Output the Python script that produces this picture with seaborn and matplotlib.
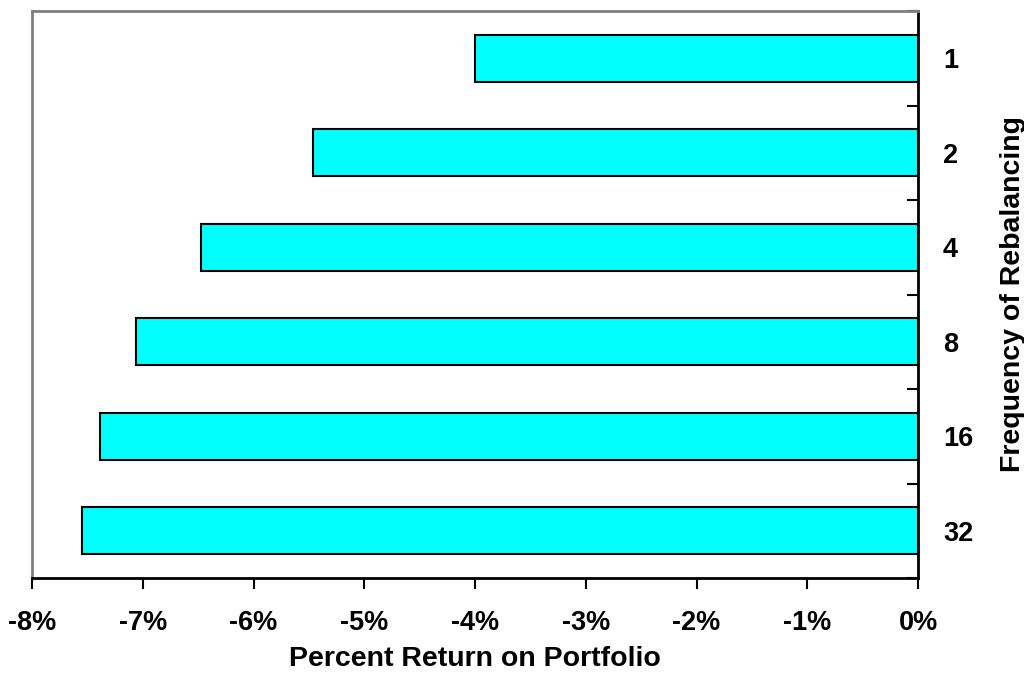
import matplotlib
matplotlib.use("Agg")
import matplotlib.pyplot as plt
import seaborn as sns
import numpy as np
import pandas as pd
from matplotlib.ticker import FixedLocator, FuncFormatter

# Rebalancing frequency and resulting portfolio return (%)
frequencies = ["1", "2", "4", "8", "16", "32"]
returns_pct = [-4.00, -5.46, -6.47, -7.06, -7.39, -7.55]
x_ticks = [-8, -7, -6, -5, -4, -3, -2, -1, 0]

sns.set_style("white")
plt.rcParams["font.family"] = ["Liberation Sans", "DejaVu Sans"]
plt.rcParams["font.weight"] = "bold"
plt.rcParams["text.color"] = "black"
plt.rcParams["axes.labelcolor"] = "black"
plt.rcParams["xtick.labelcolor"] = "black"
plt.rcParams["ytick.labelcolor"] = "black"

df = pd.DataFrame({"freq": frequencies, "ret": returns_pct})

fig = plt.figure(figsize=(10.24, 6.75), dpi=100)
ax = fig.add_axes([32 / 1024, 97 / 675, 886 / 1024, 567 / 675])

sns.barplot(data=df, x="ret", y="freq", order=frequencies, orient="h",
            color="#00FFFF", saturation=1, edgecolor="black", linewidth=1.5,
            width=0.5, ax=ax)

ax.set_xlim(-8, 0)
ax.set_ylim(5.5, -0.5)
ax.set_xticks(x_ticks)
ax.xaxis.set_major_formatter(FuncFormatter(lambda v, p: f"{v:.0f}%"))

ax.yaxis.tick_right()
ax.yaxis.set_label_position("right")
ax.yaxis.set_minor_locator(FixedLocator(np.arange(-0.5, 6.0, 1.0)))
ax.tick_params(axis="y", which="major", length=0, pad=18, labelsize=19.5,
               labelcolor="black")
ax.tick_params(axis="y", which="minor", direction="in", length=8, width=1.5,
               color="black", right=True, left=False)
ax.tick_params(axis="x", which="major", direction="out", length=8, width=1.5,
               color="black", labelsize=19.5, pad=15, bottom=True,
               labelcolor="black")
for lbl in ax.get_xticklabels() + ax.get_yticklabels():
    lbl.set_fontweight("bold")

for side in ["left", "top"]:
    ax.spines[side].set_color("#808080")
    ax.spines[side].set_linewidth(2)
for side in ["right", "bottom"]:
    ax.spines[side].set_color("black")
    ax.spines[side].set_linewidth(2)
    ax.spines[side].set_visible(True)

ax.set_xlabel("Percent Return on Portfolio", fontsize=20.5, fontweight="bold",
              labelpad=7, color="black")
ax.set_ylabel("Frequency of Rebalancing", fontsize=20.5, fontweight="bold",
              rotation=90, labelpad=19, color="black")

fig.savefig("out.png", dpi=100)
